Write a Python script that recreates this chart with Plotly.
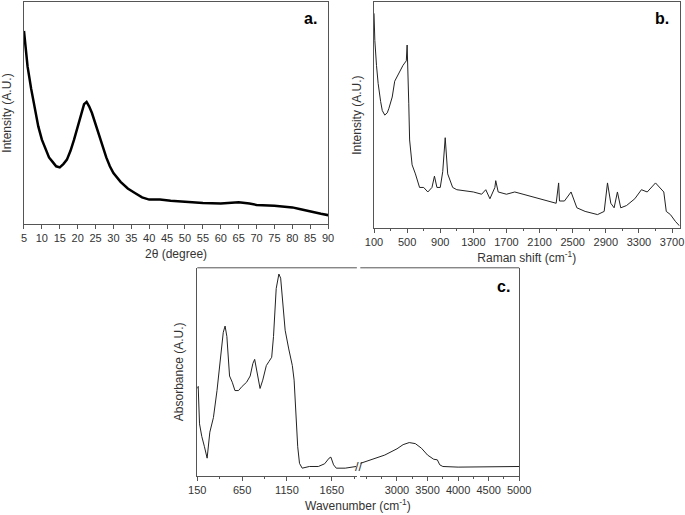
import plotly.graph_objects as go

# Panel a: XRD
xrd_x = [5, 5.5, 6, 7, 8, 9, 10, 11, 12, 13, 14, 15, 16, 17, 18, 19, 20, 21, 21.8, 22.5, 23.2, 24, 25, 26, 27, 28, 29, 30, 32, 34, 36, 38, 40, 43, 46, 50, 55, 60, 63, 65, 68, 70, 75, 78, 80, 82, 85, 88, 90]
xrd_y = [87, 78, 71, 61, 52, 44, 38, 34, 30, 28, 26, 25.5, 27, 29, 33, 38, 44, 50, 54, 55, 53, 50, 45, 39, 34, 30, 26, 23, 19, 16, 14, 12, 11, 11, 10.5, 10, 9.5, 9.3, 9.6, 9.8, 9.2, 8.6, 8.2, 7.8, 7.5, 6.8, 5.6, 4.6, 4]

# Panel b: Raman
ram_x = [100, 110, 130, 150, 180, 200, 230, 260, 280, 320, 350, 390, 420, 450, 470, 490, 500, 510, 520, 530, 560, 600, 650, 700, 750, 800, 830, 860, 900, 930, 960, 990, 1050, 1100, 1200, 1300, 1400, 1450, 1500, 1560, 1570, 1600, 1700, 1800, 1900, 2000, 2100, 2200, 2300, 2330, 2340, 2400, 2480, 2520, 2550, 2650, 2800, 2880, 2920, 2960, 3000, 3040, 3080, 3150, 3250, 3330, 3400, 3500, 3550, 3600, 3630, 3680, 3740, 3790]
ram_y = [95, 83, 72, 64, 56, 52, 50, 51, 53, 58, 65, 68, 70, 72, 73, 74, 81, 72, 55, 39, 28, 24, 18, 18, 16, 18, 23, 18, 18, 25, 40, 24, 18, 17, 16.5, 16, 15, 17, 13, 18, 21, 16, 15, 16, 15, 14, 13, 12, 11, 20, 12, 12, 16, 12, 9, 7.4, 6, 7.4, 20, 11, 9, 16, 9, 10, 13, 17, 16, 20, 18, 16, 7.4, 6, 3, 1]

# Panel c: FTIR (broken axis)
ir1_x = [150, 160, 175, 200, 230, 260, 290, 330, 370, 410, 440, 460, 480, 510, 540, 570, 610, 650, 700, 740, 770, 790, 810, 830, 850, 880, 920, 950, 980, 1000, 1030, 1060, 1080, 1100, 1130, 1170, 1210, 1230, 1250, 1270, 1290, 1320, 1400, 1500, 1570, 1620, 1640, 1670, 1700, 1800, 1920]
ir1_y = [42, 43, 25, 19, 14, 8.5, 21, 28, 41, 59, 69, 72, 67, 48, 45, 41, 41, 43, 45, 48, 54, 56, 51, 45, 42, 46, 53, 55, 57, 67, 90, 97, 95, 85, 70, 61, 53, 46, 32, 14, 6, 3.7, 4.5, 4.5, 5.8, 8.5, 9, 5.3, 3.7, 3.7, 4.5]
ir2_x = [2400, 2600, 2800, 3000, 3100, 3200, 3300, 3400, 3500, 3600, 3660, 3700, 3750, 4000, 4500, 5000]
ir2_y = [6, 8, 10, 13, 15, 16, 15.5, 13.3, 10, 8, 7.7, 5.3, 4.5, 4.2, 4.5, 4.5]

F = "Liberation Sans, Arial, sans-serif"
TF = dict(family=F, size=12, color="#333")
fig = go.Figure()
fig.add_trace(go.Scatter(x=xrd_x, y=xrd_y, mode="lines", line=dict(color="black", width=2.5), xaxis="x", yaxis="y"))
fig.add_trace(go.Scatter(x=ram_x, y=ram_y, mode="lines", line=dict(color="#222", width=1), xaxis="x2", yaxis="y2"))
fig.add_trace(go.Scatter(x=ir1_x, y=ir1_y, mode="lines", line=dict(color="#222", width=1), xaxis="x3", yaxis="y3"))
fig.add_trace(go.Scatter(x=ir2_x, y=ir2_y, mode="lines", line=dict(color="#222", width=1), xaxis="x4", yaxis="y4"))

ax = dict(showgrid=False, zeroline=False, linecolor="#555", linewidth=1, ticks="outside", ticklen=4, automargin=False,
          tickcolor="#555", tickfont=dict(family=F, size=11, color="#333"))
yax = dict(showgrid=False, zeroline=False, linecolor="#555", linewidth=1, showticklabels=False, automargin=False,
           ticks="", mirror=True)

fig.update_layout(
    width=685, height=515, margin=dict(l=0, r=0, t=0, b=0), showlegend=False,
    plot_bgcolor="white", paper_bgcolor="white",
    xaxis=dict(ax, domain=[0.035, 0.479], range=[5, 90], tickvals=list(range(5, 91, 5)), mirror=True,
               title=dict(text="2θ (degree)", font=TF, standoff=6), anchor="y"),
    yaxis=dict(yax, domain=[0.565, 0.996], range=[0, 100], title=dict(text="Intensity (A.U.)", font=TF, standoff=8), anchor="x"),
    xaxis2=dict(ax, domain=[0.546, 0.992], range=[100, 3790], tickvals=list(range(100, 3701, 400)), mirror=True,
                minor=dict(dtick=200, tick0=100, ticks="outside", ticklen=2, tickcolor="#555"),
                title=dict(text="Raman shift (cm<sup>-1</sup>)", font=TF, standoff=6), anchor="y2"),
    yaxis2=dict(yax, domain=[0.557, 0.996], range=[0, 100], title=dict(text="Intensity (A.U.)", font=TF, standoff=8), anchor="x2"),
    xaxis3=dict(ax, domain=[0.288, 0.521], range=[150, 1930], tickvals=[150, 650, 1150, 1650], showline=True,
                minor=dict(dtick=250, tick0=150, ticks="outside", ticklen=2, tickcolor="#555"), anchor="y3"),
    yaxis3=dict(yax, domain=[0.076, 0.48], range=[0, 100], mirror=False,
                title=dict(text="Absorbance (A.U.)", font=TF, standoff=10), anchor="x3"),
    xaxis4=dict(ax, domain=[0.526, 0.758], range=[2400, 5000], tickvals=[3000, 3500, 4000, 4500, 5000],
                minor=dict(dtick=250, tick0=3000, ticks="outside", ticklen=2, tickcolor="#555"), anchor="y4"),
    yaxis4=dict(yax, domain=[0.076, 0.48], range=[0, 100], mirror=False, side="right", anchor="x4"),
    annotations=[
        dict(text="<b>a.</b>", x=0.465, y=0.985, xref="paper", yref="paper", showarrow=False, xanchor="right", yanchor="top", font=dict(family=F, size=16, color="black")),
        dict(text="<b>b.</b>", x=0.98, y=0.985, xref="paper", yref="paper", showarrow=False, xanchor="right", yanchor="top", font=dict(family=F, size=16, color="black")),
        dict(text="<b>c.</b>", x=0.748, y=0.465, xref="paper", yref="paper", showarrow=False, xanchor="right", yanchor="top", font=dict(family=F, size=16, color="black")),
        dict(text="Wavenumber (cm<sup>-1</sup>)", x=0.523, y=0.0, xref="paper", yref="paper", showarrow=False, yanchor="bottom", font=TF),
        dict(text="//", x=0.5235, y=0.076, xref="paper", yref="paper", showarrow=False, font=dict(family=F, size=13, color="#333")),
    ],
    shapes=[
        dict(type="line", xref="paper", yref="paper", x0=0.288, x1=0.521, y0=0.48, y1=0.48, line=dict(color="#555", width=1)),
        dict(type="line", xref="paper", yref="paper", x0=0.526, x1=0.758, y0=0.48, y1=0.48, line=dict(color="#555", width=1)),
    ],
)
fig.write_html("out.html", config={"displayModeBar": False}, post_script="document.body.style.margin='0';")
